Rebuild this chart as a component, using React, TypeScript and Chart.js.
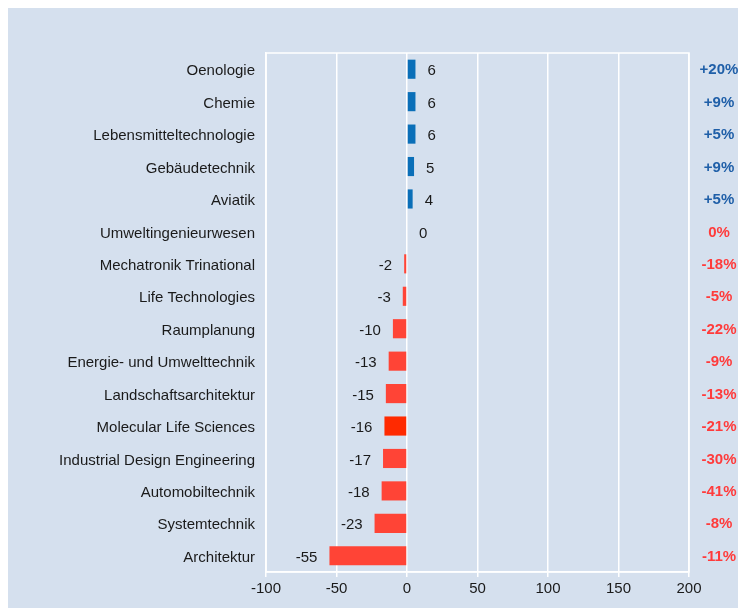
import React, { useEffect, useRef } from "react";
import { Chart, registerables } from "chart.js";

Chart.register(...registerables);

const categories = [
  "Oenologie",
  "Chemie",
  "Lebensmitteltechnologie",
  "Gebäudetechnik",
  "Aviatik",
  "Umweltingenieurwesen",
  "Mechatronik Trinational",
  "Life Technologies",
  "Raumplanung",
  "Energie- und Umwelttechnik",
  "Landschaftsarchitektur",
  "Molecular Life Sciences",
  "Industrial Design Engineering",
  "Automobiltechnik",
  "Systemtechnik",
  "Architektur",
];

const values = [6, 6, 6, 5, 4, 0, -2, -3, -10, -13, -15, -16, -17, -18, -23, -55];

const percentLabels = [
  "+20%", "+9%", "+5%", "+9%", "+5%", "0%", "-18%", "-5%",
  "-22%", "-9%", "-13%", "-21%", "-30%", "-41%", "-8%", "-11%",
];

const xTicks = [-100, -50, 0, 50, 100, 150, 200];

const FONT = '"Liberation Sans", Arial, Helvetica, sans-serif';
const BG = "#d5e0ee";
const BLUE_BAR = "#0a6fb8";
const RED_BAR = "#ff4436";
const RED_DARK = "#ff2a00";
const BLUE_TXT = "#1f5fa8";
const RED_TXT = "#ff3b3b";

export default function App() {
  const ref = useRef<HTMLCanvasElement | null>(null);

  useEffect(() => {
    document.documentElement.style.overflow = "hidden";
    document.body.style.overflow = "hidden";
    document.body.style.margin = "8px 0 0 8px";
    const canvas = ref.current;
    if (!canvas) return;

    const bgPlugin = {
      id: "bg",
      beforeDraw(chart: any) {
        const { ctx, width, height } = chart;
        ctx.save();
        ctx.fillStyle = BG;
        ctx.fillRect(0, 0, width, height);
        ctx.restore();
      },
    };

    const labelPlugin = {
      id: "labels",
      afterDatasetsDraw(chart: any) {
        const { ctx, chartArea } = chart;
        const meta = chart.getDatasetMeta(0);
        const xs = chart.scales.x;
        ctx.save();
        ctx.strokeStyle = "#ffffff";
        ctx.lineWidth = 1.5;
        ctx.strokeRect(chartArea.left, chartArea.top, chartArea.right - chartArea.left, chartArea.bottom - chartArea.top);
        ctx.textBaseline = "middle";
        meta.data.forEach((bar: any, i: number) => {
          const v = values[i];
          const y = bar.y;
          ctx.font = "15px " + FONT;
          ctx.fillStyle = "#1a1a1a";
          if (v >= 0) {
            ctx.textAlign = "left";
            ctx.fillText(String(v), xs.getPixelForValue(v) + 12, y + 2);
          } else {
            ctx.textAlign = "right";
            ctx.fillText(String(v), xs.getPixelForValue(v) - 12, y + 2);
          }
          const p = percentLabels[i];
          ctx.font = "bold 15px " + FONT;
          ctx.textAlign = "center";
          ctx.fillStyle = p.startsWith("+") ? BLUE_TXT : RED_TXT;
          ctx.fillText(p, chartArea.right + 30, y + 1);
        });
        ctx.restore();
      },
    };

    const chart = new Chart(canvas, {
      type: "bar",
      data: {
        labels: categories,
        datasets: [
          {
            data: values,
            backgroundColor: values.map((v, i) =>
              v > 0 ? BLUE_BAR : categories[i] === "Molecular Life Sciences" ? RED_DARK : RED_BAR
            ),
            barPercentage: 0.59,
            categoryPercentage: 1,
            borderWidth: 0,
          },
        ],
      },
      options: {
        indexAxis: "y",
        responsive: false,
        animation: false,
        layout: { padding: { top: 45, right: 49, left: 0, bottom: 0 } },
        plugins: { legend: { display: false }, tooltip: { enabled: false } },
        scales: {
          x: {
            type: "linear",
            min: -100,
            max: 200,
            afterBuildTicks(scale: any) {
              scale.ticks = xTicks.map((v) => ({ value: v }));
            },
            afterFit(scale: any) {
              scale.height = 36;
            },
            grid: { color: "#ffffff", lineWidth: 1.5, tickLength: 5, drawTicks: true },
            border: { color: "#ffffff", width: 1.5 },
            ticks: {
              color: "#1a1a1a",
              font: { family: FONT, size: 15 },
              padding: 3,
              maxRotation: 0,
            },
          },
          y: {
            afterFit(scale: any) {
              scale.width = 258;
            },
            grid: { display: false, drawTicks: false },
            border: { color: "#ffffff", width: 1.5 },
            ticks: {
              color: "#1a1a1a",
              font: { family: FONT, size: 15 },
              padding: 11,
              labelOffset: 2,
              autoSkip: false,
            },
          },
        },
      },
      plugins: [bgPlugin, labelPlugin],
    } as any);

    return () => chart.destroy();
  }, []);

  return (
    <canvas
      ref={ref}
      width={730}
      height={600}
      style={{ display: "block" }}
    />
  );
}
